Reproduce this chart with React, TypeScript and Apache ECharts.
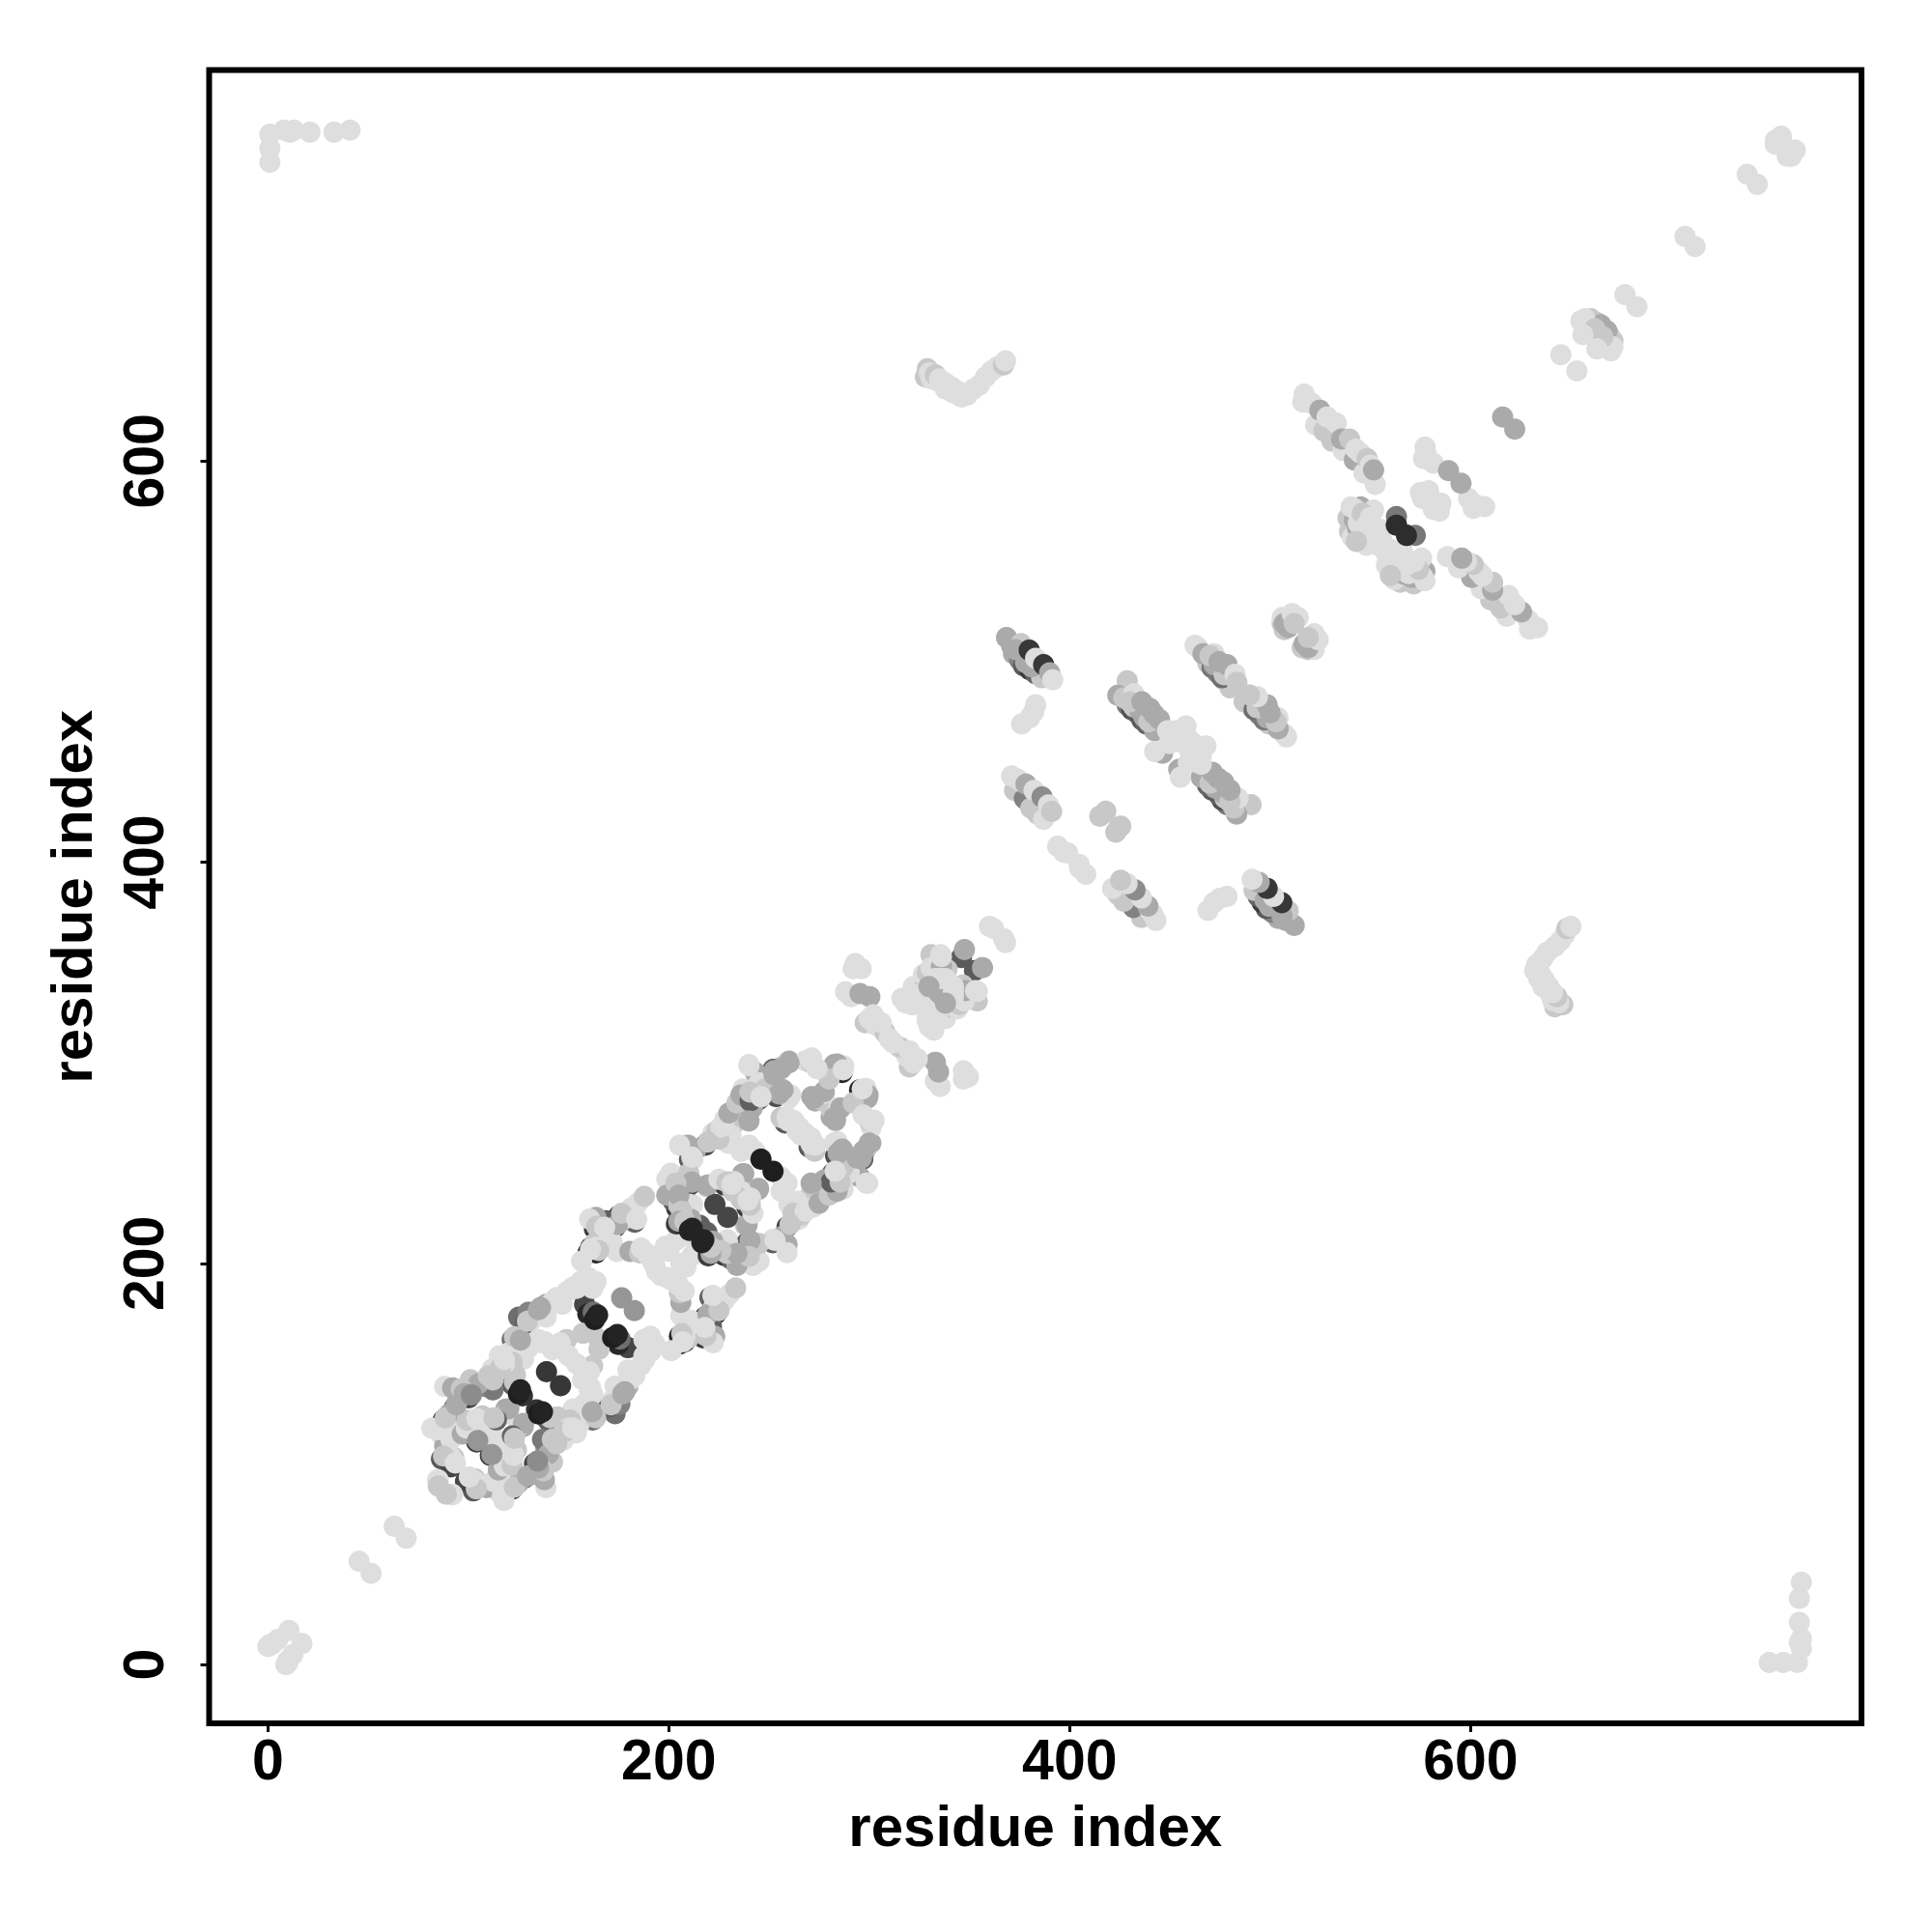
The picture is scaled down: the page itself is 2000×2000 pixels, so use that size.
import React, { useEffect, useRef } from "react";
import * as echarts from "echarts";

// Each contact: [residue i, residue j, grey level]; the map is symmetric so every contact is also drawn as [j, i].
const L = 222, M = 200, G = 170, S = 140, D = 95, K = 35;

const tickValues = [0, 200, 400, 600];
const axisTitle = "residue index";

const cornerContacts = [
  [0, 9, L], [1, 10, L], [2, 10, L], [5, 12.5, L], [10.5, 17, L], [45.5, 51.5, L], [63, 69, L],
  [1, 749, L], [1, 756, L], [1, 763, L], [8, 765, L], [11, 764, L], [13, 765, L], [21, 764, L], [33, 764, L], [41, 765, L],
];
const farDiagonal = [
  [738, 743, L], [707, 712, L], [645, 653, L], [677, 683, L], [752, 760, L], [755, 762, L], [752, 758, L], [755, 760, L],
  [655, 670, L], [657, 670, L], [660, 671, M], [663, 669, M], [665, 668, G], [657, 664, M], [657, 671, L], [662, 666, M], [656, 663, L],
  [616, 622, G],
];
const strand516 = [
  [522.7, 618, L], [526.8, 615, M], [530.8, 610, M], [536.4, 605.3, L], [542, 600.5, G], [546.8, 594, L],
  [517, 633.4, L], [516.3, 629.4, L], [519, 630, L], [521, 628.6, L], [524.8, 625.4, G], [528.4, 622, L], [533, 619, L], [535.6, 611, G], [539.6, 611, M], [542.8, 606, L], [545, 604, L], [548.4, 601.3, M], [552.4, 588.4, L], [550, 598, L], [551.6, 595.6, G],
];
const cluster545 = [
  [538.8, 571.6, M], [539.6, 565, M], [542, 570.8, G], [541, 562, L], [543.6, 566.7, G], [546.8, 565, D], [547.5, 566.5, L], [545, 560, G], [548, 558, L], [545.2, 577.2, G], [540.4, 577.2, L], [542.5, 576, L], [549.2, 563.5, L], [547, 570, L], [553.3, 562, L], [551.6, 575.6, L], [554, 558, L], [558, 554, L],
  [544, 569, L], [546, 574, M], [548, 568, L], [550, 572, L], [543, 560, M], [552, 566, L], [555, 566, L], [556, 560, L],
  [563, 568.3, 50], [563, 572.4, 120], [568, 563, 45],
  [577.3, 607, L], [576.5, 601.3, L], [578, 603, L], [581.4, 599, L], [589, 595.2, G], [575, 584.4, L], [579, 585.2, L], [576, 581.4, L], [578.8, 584.6, L],
];
const cluster510 = [
  [506, 519, M], [506, 522, L], [510, 522, L], [507, 516, M], [507, 519, G], [509, 517, G], [511, 524, L], [514, 522, L], [512, 519, M],
];
const strand463 = [
  [468.9, 499.3, M], [473.7, 494.5, 130], [477, 491, M], [480, 487, M], [471, 497, 120], [476, 492, 110], [472, 498.5, G], [477, 493.5, M],
  [462.5, 508.2, L], [464, 507, L], [466.5, 504, G], [472, 504, L], [470, 503, M], [474.5, 500, G], [478.5, 498.5, G], [482.5, 493.7, L], [483.4, 489.7, M],
];
const strand423 = [
  [428.7, 478.5, 120], [431, 476, 80], [433.6, 474.4, D], [436, 471, 90], [438.4, 468.8, 100], [442.4, 465.6, G],
  [432, 477.5, M], [434.8, 476, G], [437, 472.5, G], [439.5, 470, M],
  [428.7, 490.5, M], [424, 483.3, G], [427, 482, M], [432, 484, L], [430, 480, M], [436, 480, G], [440, 476.8, G], [442, 474, G], [444.8, 471.2, G], [448.8, 465.6, L],
  [446.3, 454.4, G], [442.4, 455.2, L], [452.8, 465.6, L], [449.6, 459.2, L], [457.6, 465.6, L], [459.3, 461.6, L], [461.7, 455.2, L], [455, 460, L], [458, 468, L],
];
const strand370 = [
  [372, 504, G], [375, 501, 130], [377, 498, 90], [380, 496, 60], [383, 494, 100], [386, 492, M], [378, 499.5, G], [381, 497.5, G],
  [368.5, 512, G], [371, 508, G], [375.7, 509, M], [373, 506, G], [379.8, 505.8, 55], [383, 501.7, L], [387, 498.5, 55], [390, 494.5, G], [391.5, 491, L],
  [376, 469, L], [380, 472, L], [382, 475, L], [383, 478.5, L],
];
const strand371 = [
  [372.5, 435.8, M], [377.4, 431.8, 130], [380.6, 427, M], [384, 424, M], [387, 421.4, L],
  [371, 443, L], [374, 441.5, L], [376, 440, L], [378.2, 439, G], [382.2, 435.8, L], [386.2, 432.6, S], [389.4, 428.6, L], [391, 425.4, M],
  [415, 423, M], [417.5, 424.6, M], [418, 425.5, M], [394, 408, L], [397, 405, L], [399, 404.7, L],
];
const farStrand = [
  [328, 642, M], [331, 641, L], [334, 640, L], [338, 636, L], [342, 634, L],
  [329, 646, M], [330, 644, L], [333, 643, M], [335, 641, L], [338, 639, L], [341, 637, L], [344, 635, L], [346, 632, L], [349, 633, L], [352, 636, L], [355, 638, L], [358, 642, L], [361, 645, L], [364, 647, L], [367, 648, M], [368, 650, L],
];
const cluster330 = [
  [360, 368, L], [362, 367, L], [346, 352.5, 90], [347.5, 356.5, G],
  [288.2, 335.4, L], [291, 333, L], [292, 347, L], [296, 347, L], [293, 349.5, L], [295.4, 334.6, G], [300.3, 333, G],
  [298, 320, M], [300, 322, L], [303, 319, L], [305, 318, L], [307.5, 316, L], [308, 315, M], [310, 312, L], [312, 310, L], [302, 324, L], [306, 320, L],
  [322, 338, L], [328, 340, M], [327, 344, L], [325, 331, L], [333, 336, G], [329, 345, M],
  [330, 337.8, G], [321.9, 332.2, L], [316.3, 332.2, L], [318, 330, L], [324, 334, L], [326, 329, L], [321, 329, L], [322.5, 332.4, L], [329, 322, L],
  [330.8, 353.9, M], [335.6, 353.9, L], [338.8, 346.6, M], [335.6, 345, L], [330.8, 347.4, L], [336, 348, G], [336, 353, L], [333, 342, L], [338, 342, L], [342, 335.4, L], [338, 329.8, G],
];
const lozengeD = [
  [208.7, 243.8, D], [210.3, 239, 80], [202.2, 239, 100], [203.8, 232.6, D], [205.4, 224.5, 70], [203.8, 219.7, 60], [207, 219.7, 40], [210.3, 251.8, D], [218.3, 259, 70], [252, 296.8, 100], [256, 297.6, 120], [251.2, 292.8, 80], [253.6, 283.2, 80], [239.2, 284, 80], [244.8, 281.6, D], [286.5, 295.2, 40], [227.9, 239, 60], [238.4, 230.2, 70], [270, 258, 90], [251, 294.6, 70],
  [240, 299.2, L], [243.2, 295.2, G], [245, 290, L], [260, 300.8, G], [258, 299, M], [260.8, 284, L], [256, 287, G], [248, 287, M], [241.6, 277.5, G], [243, 284, L], [237, 287, L], [232.7, 276.7, L], [235, 281, L], [230.3, 272.7, G], [228.7, 268.7, L], [239.2, 272.7, G], [233, 270, M], [229.5, 259.9, L], [231, 264, L], [221.5, 262.3, L], [225, 262, M], [213.5, 256.7, G], [209.5, 259, G], [205.4, 259, L], [212, 252, L],
  [222, 265, L], [224, 266, M], [226, 268, L], [228, 272, L], [230, 275, G], [234, 280, M], [236, 284, G],
  [199, 242, L], [199, 234, G], [201, 245, L], [210.3, 229.4, L], [211, 222, G], [219.1, 239, G], [230.3, 240.6, M], [236.8, 244.6, G], [240, 259, L], [236, 256, L], [243, 256, L], [244.8, 237.4, G], [240.8, 232.6, L], [236, 236, L], [232, 236, M], [225, 242, L],
  [256, 272.7, M], [259, 273, L], [262.5, 271.1, L], [265, 268, L], [269.7, 263, L], [266, 264, L], [271.3, 283.2, G], [273, 281, G], [277, 281, M], [277.7, 284.8, L], [282.5, 299.2, G], [287.3, 298.4, L], [271.3, 302.4, L], [268, 301, L], [271, 300, M], [277.5, 285.7, G], [272.7, 282.5, G], [271, 301, L], [260, 282.5, L], [257, 286.5, G], [260, 300, G], [256, 297, G], [240, 298.6, L], [240.6, 281, D], [240, 271, G], [284, 299.4, G], [280, 292, M], [274, 297, L],
];
const lozengeC = [
  [162.9, 217.3, 60], [173.3, 218.1, 50], [175, 223.7, 50], [166.9, 216.5, 60], [168.5, 221.3, D], [183, 220.5, 100], [163.7, 205.3, 40], [159.7, 205.3, 50], [161, 208, 90],
  [176.5, 221.3, M], [163.7, 222.9, G], [160.5, 222.1, L], [162.9, 210, M], [164.5, 208.5, L], [156.5, 201.2, L], [171.7, 210.9, L], [174.1, 206, L], [179.8, 222.9, L], [181.4, 227.7, L], [184.6, 230.2, L], [187.8, 233.4, M], [170, 214, L],
  [180.6, 206, G], [185.4, 205.3, M], [186.2, 207.7, L], [189, 205, L], [191.8, 201.2, L], [193, 199, L], [194, 196, L], [198.2, 208.5, L], [203.9, 211.7, L], [200, 206, L], [208, 214, L],
  [203.9, 227.7, 50], [205.4, 239, D], [202.2, 231, D],
  [200.6, 234.2, G], [211, 221.3, M], [211.9, 229.3, L], [219, 238.2, M], [221.5, 210.1, G], [214, 214, L], [215.5, 219, D], [220, 239.2, M], [223, 229.4, 70],
];
const lozengeB = [
  [158.9, 186, 90], [158, 179.6, 70], [159.6, 174.8, 40], [162.3, 175.7, 110], [176.5, 182.8, 150],
  [157.2, 165.2, M], [165.3, 162, M], [160.4, 137, L], [157, 142, L], [162, 149, M], [160.4, 145.9, L], [154, 150, L],
  [142, 181, L], [144, 183, L], [136, 178, G],
  [146.8, 179.6, L], [149.2, 186, L], [152, 188, L], [154, 187.6, L], [156, 191, L], [158.9, 190.9, L], [162, 187.6, L], [163.7, 190.9, L], [160, 193, L],
];
const lozengeA = [
  [87.4, 121.8, 70], [93, 128, 80], [95.4, 136.2, D], [97, 133.8, 90], [100.2, 133, 70], [86.6, 102.5, 90], [92.2, 99.3, 70], [91.3, 98.6, 70], [104.2, 111, 60], [111.5, 121.8, 80], [122, 139.5, D], [127, 134, 50], [125.1, 173.2, 110], [121.9, 162, 110], [125, 160.3, 70], [128.3, 170, D], [134, 175.6, D], [129.9, 175.6, 130], [88, 121, 60], [108, 138.7, S], [112.3, 137, 120],
  [88.2, 138.7, L], [92.2, 137.9, G], [94.6, 131.4, G], [90.6, 125, G], [81.8, 117.8, L], [86.6, 114.6, L], [92.2, 116.2, L], [88.2, 109, G], [92.7, 103.3, M], [84.6, 92.1, L], [85, 92, L], [85, 89, M], [91.3, 103.4, L], [91.3, 112.3, L], [84, 117, L],
  [97, 115, G], [99, 118, L], [107, 124, M], [109, 120, M],
  [101, 142, M], [105, 140, G], [112.3, 141.9, M], [112, 147.5, L], [115.5, 153.9, L], [120.3, 155.5, L], [127.5, 152.3, L], [121.9, 150.7, M], [123.5, 144.3, M], [118, 150, L], [116, 148, M], [118, 152, L], [110, 144, M],
  [138.8, 179.6, G], [138.8, 173.2, L], [131.5, 171.6, L], [134.8, 162, L], [138, 161, L], [130, 158, L],
  [99.4, 121.8, M], [104.2, 122.6, L], [113.8, 121.9, G], [118.7, 127.4, G], [118.6, 125, L], [120.2, 127.5, G], [121, 109, L], [114, 112, L], [104.7, 111.7, 150], [122, 114, 100],
  [139, 146, 55],
];
const lighterOverlay = [
  [88.5, 123, M], [94, 129.5, G], [96.5, 137.5, M], [98, 135, G], [101.5, 134.5, S], [87.6, 104, M], [93.5, 100.5, L], [112.8, 123, M], [123, 141, M], [123, 163.5, M], [126, 161.8, G], [129.5, 171.2, M], [135, 177, G],
  [164, 218.5, M], [174.5, 219.5, G], [168, 218, L], [165, 206.5, M], [161, 207, L], [176.5, 225, M], [184, 222, L],
  [205, 229, M], [206.5, 240.5, G],
  [210, 245, M], [211.5, 240.5, G], [203.5, 240, M], [205, 234, G], [206.5, 226, M], [205, 221, G], [208, 221, M], [211.5, 253, L], [219.5, 260.5, M], [252.5, 294, G], [255, 284.5, G], [240.5, 285.5, M], [246, 283, L], [287, 296.5, L], [229, 240.5, M], [239.5, 231.5, L], [271, 259.5, L], [252.5, 296, G],
];
const darkCores = [
  [125, 135, 30], [126, 137, K], [163, 172, 30], [164.5, 174.3, K], [210.3, 216.5, K], [211.7, 217.5, K], [246, 252, 30],
];

const contactGroups = [cornerContacts, farDiagonal, strand516, cluster545, cluster510, strand463, strand423, strand370, strand371, farStrand, cluster330, lozengeA, lozengeB, lozengeC, lozengeD, lighterOverlay, darkCores];

const FONT = '"Liberation Sans", Arial, sans-serif';

function App() {
  const ref = useRef<HTMLDivElement>(null);
  useEffect(() => {
    document.body.style.margin = "0";
    const chart = echarts.init(ref.current!, null, { renderer: "svg" });
    const points: number[][] = [];
    contactGroups.forEach((g) =>
      g.forEach(([i, j, v]) => {
        points.push([i, j, v]);
        points.push([j, i, v]);
      })
    );
    const axis = (rotate: number, nameGap: number, labelMargin: number) => ({
      type: "value",
      min: -29.3,
      max: 795,
      name: axisTitle,
      nameLocation: "middle",
      nameGap,
      nameRotate: rotate,
      nameTextStyle: { fontFamily: FONT, fontWeight: "bold", fontSize: 60, color: "#000" },
      axisLine: { show: false, onZero: false },
      splitLine: { show: false },
      axisTick: { show: true, length: 9, customValues: tickValues, lineStyle: { color: "#000", width: 3 } },
      axisLabel: {
        customValues: tickValues,
        rotate,
        margin: labelMargin,
        fontFamily: FONT,
        fontWeight: "bold",
        fontSize: 59,
        color: "#000",
      },
    });
    chart.setOption({
      animation: false,
      backgroundColor: "#fff",
      grid: {
        show: true,
        left: 216.5,
        right: 73,
        top: 72.5,
        bottom: 216,
        borderColor: "#000",
        borderWidth: 6,
        backgroundColor: "transparent",
      },
      xAxis: axis(0, 76, 8),
      yAxis: axis(90, 112, 38),
      series: [
        {
          type: "scatter",
          symbol: "circle",
          symbolSize: 22,
          silent: true,
          data: points,
          itemStyle: {
            opacity: 1,
            color: (p: any) => {
              const v = p.data[2];
              return `rgb(${v},${v},${v})`;
            },
          },
        },
      ],
    });
    return () => chart.dispose();
  }, []);
  return <div ref={ref} style={{ width: 2000, height: 2000 }} />;
}

export default App;
